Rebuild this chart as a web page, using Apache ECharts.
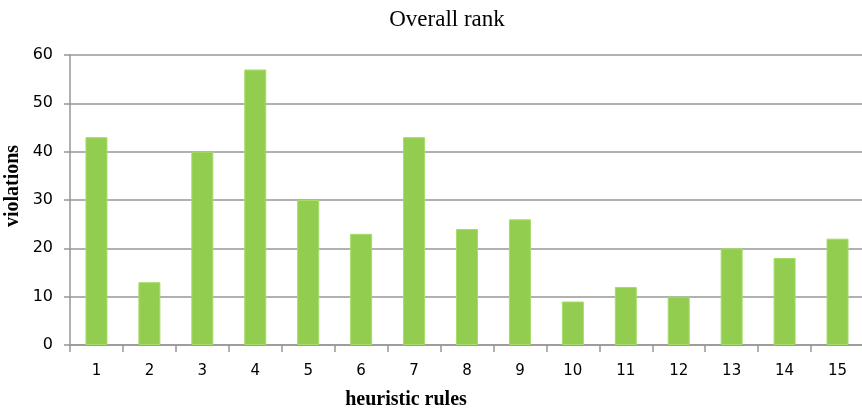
<!DOCTYPE html>
<html>
<head>
<meta charset="utf-8">
<script src="https://cdn.jsdelivr.net/npm/echarts@6/dist/echarts.min.js"></script>
<style>
  html, body { margin: 0; padding: 0; background: #fff; }
  #chart { width: 862px; height: 410px; }
</style>
</head>
<body>
<div id="chart"></div>
<script>
// Heuristic rules on the x axis, violation counts per rule
const rules = ['1', '2', '3', '4', '5', '6', '7', '8', '9', '10', '11', '12', '13', '14', '15'];
const violations = [43, 13, 40, 57, 30, 23, 43, 24, 26, 9, 12, 10, 20, 18, 22];
const yTicks = [0, 10, 20, 30, 40, 50, 60];

const axisGray = '#979797';
const serif = 'Liberation Serif';

const chart = echarts.init(document.getElementById('chart'));
chart.setOption({
  animation: false,
  backgroundColor: '#ffffff',
  grid: { left: 70, right: -2, top: 55, bottom: 65, containLabel: false, outerBoundsMode: 'none' },
  // Chart title and axis titles
  graphic: [
    {
      type: 'text', x: 447, y: 20,
      style: { text: 'Overall rank', fill: '#000', align: 'center', verticalAlign: 'middle',
               font: 'normal 23px "' + serif + '"' }
    },
    {
      type: 'text', x: 406, y: 400,
      style: { text: 'heuristic rules', fill: '#000', align: 'center', verticalAlign: 'middle',
               font: 'bold 20px "' + serif + '"' }
    },
    {
      type: 'text', x: 13, y: 186, rotation: Math.PI / 2,
      style: { text: 'violations', fill: '#000', align: 'center', verticalAlign: 'middle',
               font: 'bold 20px "' + serif + '"' }
    }
  ],
  xAxis: {
    type: 'category',
    data: rules,
    axisLine: { lineStyle: { color: axisGray, width: 1.5 } },
    axisTick: { show: true, length: 7, lineStyle: { color: axisGray, width: 1.5 } },
    axisLabel: { fontFamily: 'DejaVu Sans', fontSize: 15, color: '#000', margin: 19 }
  },
  yAxis: {
    type: 'value',
    min: yTicks[0],
    max: yTicks[yTicks.length - 1],
    interval: 10,
    axisLine: { show: true, lineStyle: { color: axisGray, width: 1.5 } },
    axisTick: { show: true, length: 6, lineStyle: { color: axisGray, width: 1.5 } },
    splitLine: { lineStyle: { color: axisGray, width: 1.5 } },
    axisLabel: { fontFamily: 'DejaVu Sans', fontSize: 16, color: '#000', margin: 17 }
  },
  series: [{
    type: 'bar',
    data: violations,
    barWidth: 22,
    itemStyle: { color: '#92cd50', borderColor: '#a6dc6a', borderWidth: 1 }
  }]
});
</script>
</body>
</html>
